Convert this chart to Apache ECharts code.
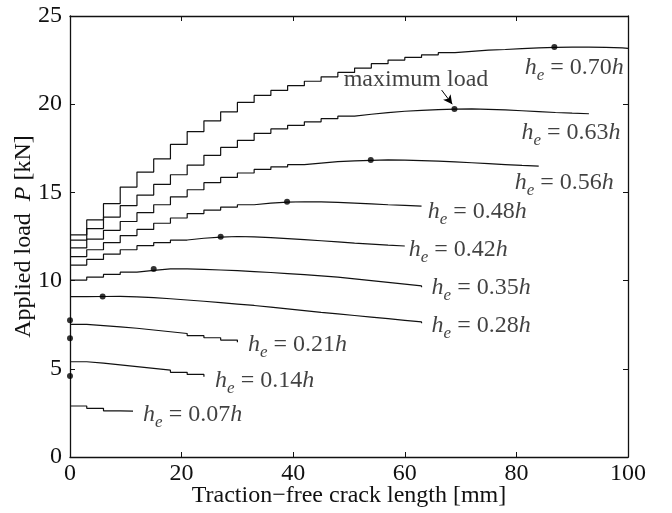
<!DOCTYPE html>
<html>
<head>
<meta charset="utf-8">
<script src="https://cdn.jsdelivr.net/npm/echarts@6/dist/echarts.min.js"></script>
<style>html,body{margin:0;padding:0;background:#fff;}#c{width:672px;height:513px;}</style>
</head>
<body>
<div id="c"></div>
<script>
// ---- data ----
const stepX = [0,3,6,9,12,15,18,21,24,27,30,33,36,39,42,45,48,51,54,57,60,63,66,69,72,75,78,81,84,87,90,93,96,99];
const heNames = ['0.70','0.63','0.56','0.48','0.42','0.35','0.28','0.21','0.14','0.07'];
const endX = [100, 93, 84, 63, 60, 63, 63, 30, 24, 11.3];
const he070 = [12.59,13.44,14.36,15.30,16.15,16.90,17.72,18.45,19.06,19.57,20.1,20.5,20.78,21.05,21.3,21.55,21.8,22.05,22.3,22.5,22.65,22.8,22.92,23.0,23.06,23.1,23.15,23.19,23.22,23.24,23.23,23.22,23.19,23.16];
const he063 = [12.30,12.95,13.6,14.25,14.85,15.45,16.0,16.55,17.1,17.55,17.95,18.35,18.6,18.8,19.0,19.18,19.32,19.43,19.52,19.6,19.65,19.69,19.72,19.73,19.71,19.68,19.63,19.58,19.53,19.49,19.46,19.44];
const he056 = [11.85,12.35,12.85,13.35,13.85,14.3,14.75,15.15,15.55,15.85,16.1,16.3,16.45,16.57,16.66,16.74,16.79,16.82,16.84,16.83,16.8,16.77,16.73,16.68,16.63,16.58,16.53,16.49,16.46];
const he048 = [11.36,11.75,12.15,12.55,12.9,13.25,13.55,13.8,14.0,14.17,14.3,14.39,14.45,14.47,14.46,14.43,14.39,14.35,14.3,14.26,14.22,14.19];
const he042 = [10.88,11.2,11.5,11.75,11.98,12.15,12.3,12.4,12.47,12.5,12.48,12.44,12.38,12.32,12.26,12.2,12.13,12.07,12.01,11.96,11.92];
const he035 = [10.03,10.2,10.35,10.48,10.58,10.66,10.66,10.64,10.6,10.56,10.51,10.46,10.4,10.34,10.27,10.2,10.1,10.0,9.9,9.8,9.7,9.62];
const he028 = [9.09,9.1,9.11,9.08,9.03,8.97,8.9,8.83,8.75,8.67,8.59,8.5,8.4,8.3,8.2,8.11,8.02,7.93,7.84,7.75,7.66,7.58];
const he021 = [7.52,7.45,7.38,7.3,7.2,7.1,7.0,6.88,6.76,6.63,6.5];
const he014 = [5.4,5.32,5.22,5.12,5.02,4.92,4.8,4.68,4.55];
const he007 = [2.89,2.76,2.62,2.6];
const curves = [he070,he063,he056,he048,he042,he035,he028,he021,he014,he007];
const maxX = [86.8, 68.9, 53.9, 38.9, 27, 15, 5.85, 0, 0, 0];
const maxY = [23.24, 19.73, 16.84, 14.47, 12.48, 10.66, 9.1, 7.75, 6.73, 4.59];
// label anchor (left edge, vertical middle) in data units
const labelX = [81.5, 80.9, 79.7, 64.1, 60.7, 64.8, 64.8, 31.9, 26.0, 13.1];
const labelY = [22.05, 18.37, 15.53, 13.89, 11.73, 9.58, 7.43, 6.35, 4.31, 2.38];
const xTicks = [0,20,40,60,80,100];
const yTicks = [0,5,10,15,20,25];
const annText = 'maximum load';
const annPos = [62.0, 21.37];
const arrowFrom = [66.6, 20.8];
const arrowTo = [68.5, 20.0];

const FONT = '"Liberation Serif", "Times New Roman", serif';
const FS = 24;
const series = [];
curves.forEach((vals, k) => {
  const d = vals.map((v, i) => [stepX[i], v]);
  const lastX = d[d.length - 1][0];
  if (endX[k] > lastX) d.push([endX[k], vals[vals.length - 1]]);
  const s = {
    type: 'line', step: 'end', data: d, symbol: 'none', silent: true,
    lineStyle: {color: '#111', width: 1.2}, xAxisIndex: 0, yAxisIndex: 0, z: 2
  };
  if (k === 1) {
    s.markLine = {
      silent: true, symbol: ['none', 'arrow'], symbolSize: [7, 9],
      lineStyle: {color: '#000', width: 1, type: 'solid'}, label: {show: false},
      data: [[{coord: arrowFrom}, {coord: arrowTo}]]
    };
  }
  series.push(s);
});
series.push({
  type: 'scatter', symbol: 'circle', symbolSize: 6, silent: true,
  itemStyle: {color: '#000'}, z: 3,
  data: maxX.map((x, i) => [x, maxY[i]])
});
const rich = {
  i: {fontFamily: FONT, fontStyle: 'italic', fontSize: FS, lineHeight: 32, color: '#111'},
  s: {fontFamily: FONT, fontStyle: 'italic', fontSize: 17, lineHeight: 12, verticalAlign: 'bottom', color: '#111'},
  n: {fontFamily: FONT, fontSize: FS, lineHeight: 32, color: '#111'}
};
series.push({
  type: 'scatter', symbolSize: 0, silent: true, z: 4,
  data: labelX.map((x, i) => ({value: [x, labelY[i]], name: heNames[i]})),
  label: {
    show: true, position: 'right', distance: 0, align: 'left', verticalAlign: 'middle',
    formatter: p => '{i|h}{s|e}{n| = ' + p.name + '}{i|h}', rich: rich
  }
});
series.push({
  type: 'scatter', symbolSize: 0, silent: true, z: 4,
  data: [{value: annPos, name: annText}],
  label: {show: true, position: 'inside', formatter: p => p.name,
    fontFamily: FONT, fontSize: FS, color: '#111'}
});

const axisCommon = {
  axisLine: {show: true, onZero: false, lineStyle: {color: '#111', width: 1.3}},
  axisTick: {show: true, inside: true, length: 5, lineStyle: {color: '#111'}},
  splitLine: {show: false}
};
const option = {
  animation: false,
  backgroundColor: '#fff',
  grid: {left: 70, right: 44, top: 16, bottom: 56, containLabel: false, outerBoundsMode: 'none'},
  xAxis: [
    Object.assign({type: 'value', min: xTicks[0], max: xTicks[xTicks.length-1], interval: 20, position: 'bottom',
      name: 'Traction\u2212free crack length [mm]', nameLocation: 'middle', nameGap: 27, nameMoveOverlap: false,
      nameTextStyle: {fontFamily: FONT, fontSize: FS, color: '#111'},
      axisLabel: {fontFamily: FONT, fontSize: FS, color: '#111', margin: 5}}, axisCommon),
    Object.assign({type: 'value', min: 0, max: 100, interval: 20, position: 'top', axisLabel: {show: false}}, axisCommon)
  ],
  yAxis: [
    Object.assign({type: 'value', min: yTicks[0], max: yTicks[yTicks.length-1], interval: 5, position: 'left',
      name: 'Applied load  {i|P} [kN]', nameLocation: 'middle', nameGap: 34, nameMoveOverlap: false,
      nameTextStyle: {fontFamily: FONT, fontSize: FS, color: '#111',
        rich: {i: {fontFamily: FONT, fontStyle: 'italic', fontSize: FS, color: '#111'}}},
      axisLabel: {fontFamily: FONT, fontSize: FS, color: '#111', margin: 8}}, axisCommon),
    Object.assign({type: 'value', min: 0, max: 25, interval: 5, position: 'right', axisLabel: {show: false}}, axisCommon)
  ],
  series: series
};
const chart = echarts.init(document.getElementById('c'), null, {renderer: 'canvas'});
chart.setOption(option);
</script>
</body>
</html>
